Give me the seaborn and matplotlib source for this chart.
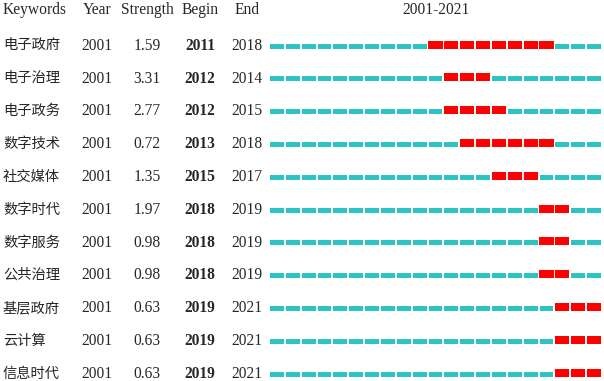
import numpy as np
import pandas as pd
import matplotlib
matplotlib.use("Agg")
import matplotlib.pyplot as plt
import matplotlib.transforms as mtransforms
import seaborn as sns

keywords = ["电子政府", "电子治理", "电子政务", "数字技术", "社交媒体", "数字时代",
            "数字服务", "公共治理", "基层政府", "云计算", "信息时代"]
year = [2001] * 11
strength = [1.59, 3.31, 2.77, 0.72, 1.35, 1.97, 0.98, 0.98, 0.63, 0.63, 0.63]
begin = [2011, 2012, 2012, 2013, 2015, 2018, 2018, 2018, 2019, 2019, 2019]
end = [2018, 2014, 2015, 2018, 2017, 2019, 2019, 2019, 2021, 2021, 2021]
start_year, end_year = 2001, 2021

sns.set_theme(style="white")
plt.rcParams['font.family'] = ['Liberation Serif', 'Noto Sans CJK SC']
plt.rcParams['font.size'] = 11.2

W, H = 604, 381
fig = plt.figure(figsize=(W / 100, H / 100), dpi=100)
ax = fig.add_axes([269 / W, 0, 333 / W, 1])
ax.set_xlim(start_year - 0.5, end_year + 0.5)
ax.set_ylim(H, 0)
ax.axis("off")

teal = "#2cc3c3"
red = "#ff0000"
row0, pitch = 45.8, 32.8
years = np.arange(start_year, end_year + 1)

for i in range(len(keywords)):
    yc = row0 + i * pitch
    burst = (years >= begin[i]) & (years <= end[i])
    ax.bar(years[~burst], 5, bottom=yc - 2.3, width=0.87, color=teal, linewidth=0)
    ax.bar(years[burst], 8, bottom=yc - 5.3, width=0.9, color=red, linewidth=0)

tr = mtransforms.blended_transform_factory(fig.transFigure, ax.transData)
cols = {"kw": 3 / W, "year": 97 / W, "str": 147 / W, "begin": 200 / W, "end": 247 / W}
hy = 10.5
ax.text(cols["kw"], hy, "Keywords", transform=tr, ha="left", va="center")
ax.text(cols["year"], hy, "Year", transform=tr, ha="center", va="center")
ax.text(cols["str"], hy, "Strength", transform=tr, ha="center", va="center")
ax.text(cols["begin"], hy, "Begin", transform=tr, ha="center", va="center")
ax.text(cols["end"], hy, "End", transform=tr, ha="center", va="center")
ax.text(436 / W, hy, f"{start_year}-{end_year}", transform=tr, ha="center", va="center")

for i in range(len(keywords)):
    yc = row0 + i * pitch
    ax.text(cols["kw"], yc, keywords[i], transform=tr, ha="left", va="center",
            fontsize=10.3)
    ax.text(cols["year"], yc, str(year[i]), transform=tr, ha="center", va="center")
    ax.text(cols["str"], yc, f"{strength[i]:.2f}", transform=tr, ha="center", va="center")
    ax.text(cols["begin"], yc, str(begin[i]), transform=tr, ha="center", va="center",
            fontweight="bold")
    ax.text(cols["end"], yc, str(end[i]), transform=tr, ha="center", va="center")

fig.savefig("out.png", dpi=100, facecolor="white")
